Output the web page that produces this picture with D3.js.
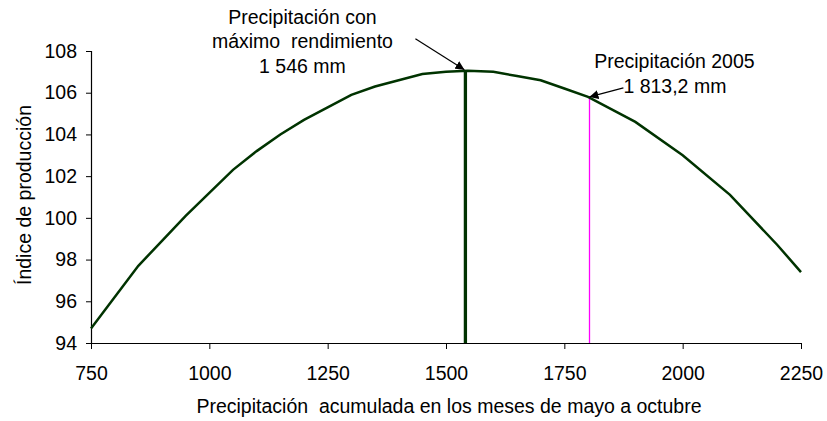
<!DOCTYPE html>
<html lang="es">
<head>
<meta charset="UTF-8">
<title>Índice de producción vs precipitación</title>
<script src="https://d3js.org/d3.v7.min.js"></script>
<style>
  body { margin: 0; background: #fff; }
  text { font-family: "Liberation Sans", Arial, sans-serif; fill: #000; }
</style>
</head>
<body>
<svg id="chart" width="827" height="421"></svg>
<script>
// precipitation (mm) and production index
var precip = [750, 850, 900, 950, 1000, 1050, 1100, 1150, 1200, 1250, 1300, 1350, 1400, 1450, 1500, 1546,
              1600, 1650, 1700, 1750, 1800, 1850, 1900, 2000, 2100, 2200, 2250];
var indice = [94.7, 97.7, 98.9, 100.1, 101.2, 102.3, 103.2, 104.0, 104.7, 105.3, 105.9, 106.3, 106.6, 106.9, 107.0, 107.05,
              107.0, 106.8, 106.6, 106.2, 105.8, 105.2, 104.6, 103.0, 101.1, 98.7, 97.4];
var xTicks = [750, 1000, 1250, 1500, 1750, 2000, 2250];
var yTicks = [94, 96, 98, 100, 102, 104, 106, 108];
// where the two marker lines sit in the picture
var maxLine = { x: 1541, top: 107.05 };
var line2005 = { x: 1803, top: 105.8 };
var fs = "19.5px";

var margin = { top: 51, right: 26, bottom: 78, left: 91 },
    width = 827 - margin.left - margin.right,
    height = 421 - margin.top - margin.bottom;

var svg = d3.select("#chart")
  .append("g")
    .attr("transform", "translate(" + margin.left + "," + margin.top + ")");

var x = d3.scaleLinear().domain([750, 2250]).range([0, width]);
var y = d3.scaleLinear().domain([94, 108]).range([height, 0]);

// axes
var xAxis = svg.append("g")
    .attr("transform", "translate(0," + height + ")")
    .call(d3.axisBottom(x).tickValues(xTicks).tickSize(6).tickPadding(17).tickFormat(d3.format("d")));
var yAxis = svg.append("g")
    .call(d3.axisLeft(y).tickValues(yTicks).tickSize(5).tickPadding(9).tickFormat(d3.format("d")));
[xAxis, yAxis].forEach(function(a) {
  a.select(".domain").attr("stroke", "#000").attr("stroke-width", 1.2);
  a.selectAll(".tick line").attr("stroke", "#000");
  a.selectAll("text").style("font-size", fs).style("font-family", "Liberation Sans, Arial, sans-serif");
});
xAxis.selectAll(".domain").attr("d", "M0,0.5H" + width);
yAxis.selectAll(".domain").attr("d", "M0.5," + height + "V0");

// vertical lines
svg.append("line")
  .attr("x1", x(maxLine.x)).attr("x2", x(maxLine.x))
  .attr("y1", height).attr("y2", y(maxLine.top))
  .attr("stroke", "#003300").attr("stroke-width", 3.3);
svg.append("line")
  .attr("x1", Math.round(x(line2005.x)) + 0.5).attr("x2", Math.round(x(line2005.x)) + 0.5)
  .attr("y1", height).attr("y2", y(line2005.top))
  .attr("stroke", "#ff00ff").attr("stroke-width", 1.3);

// curve
var pts = precip.map(function(p, i) { return [p, indice[i]]; });
svg.append("path")
  .datum(pts)
  .attr("fill", "none")
  .attr("stroke", "#003300")
  .attr("stroke-width", 2.5)
  .attr("d", d3.line().x(function(d) { return x(d[0]); }).y(function(d) { return y(d[1]); }));

// arrow marker
var defs = d3.select("#chart").append("defs");
defs.append("marker")
  .attr("id", "arr").attr("viewBox", "0 0 10 10")
  .attr("refX", 10).attr("refY", 5)
  .attr("markerWidth", 9).attr("markerHeight", 9)
  .attr("markerUnits", "userSpaceOnUse")
  .attr("orient", "auto")
  .append("path").attr("d", "M0,0L10,5L0,10z").attr("fill", "#000");

svg.append("line")
  .attr("x1", x(maxLine.x) - 50).attr("y1", y(maxLine.top) - 32)
  .attr("x2", x(maxLine.x) - 1).attr("y2", y(maxLine.top) - 1)
  .attr("stroke", "#000").attr("stroke-width", 1.2).attr("marker-end", "url(#arr)");
svg.append("line")
  .attr("x1", x(line2005.x) + 34).attr("y1", y(line2005.top) - 9)
  .attr("x2", x(line2005.x)).attr("y2", y(line2005.top))
  .attr("stroke", "#000").attr("stroke-width", 1.2).attr("marker-end", "url(#arr)");

// annotations
var ann1 = ["Precipitación con", "máximo\u00a0 rendimiento", "1 546 mm"];
svg.selectAll(".ann1").data(ann1).enter().append("text")
  .attr("x", x(maxLine.x) - 163).attr("y", function(d, i) { return -27.5 + i * 24.7; })
  .attr("text-anchor", "middle").style("font-size", fs)
  .text(function(d) { return d; });

svg.append("text")
  .attr("x", x(line2005.x) + 85).attr("y", 17)
  .attr("text-anchor", "middle").style("font-size", fs)
  .text("Precipitación 2005");
svg.append("text")
  .attr("x", x(line2005.x) + 34).attr("y", 42)
  .attr("text-anchor", "start").style("font-size", fs)
  .text("1 813,2 mm");

// axis titles
svg.append("text")
  .attr("x", width / 2 + 3).attr("y", height + 70)
  .attr("text-anchor", "middle").style("font-size", fs)
  .text("Precipitación\u00a0 acumulada en los meses de mayo a octubre");
svg.append("text")
  .attr("transform", "rotate(-90)")
  .attr("x", -height / 2 + 2).attr("y", -60)
  .attr("text-anchor", "middle").style("font-size", fs)
  .text("Índice de producción");
</script>
</body>
</html>
